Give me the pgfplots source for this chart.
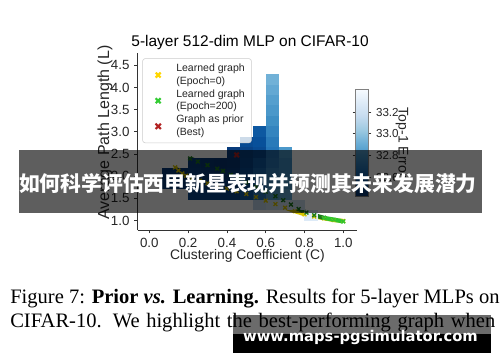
\documentclass[border=0pt]{standalone}
\usepackage{fontspec}
\setmainfont{Liberation Sans}
\newfontfamily\serif{Liberation Serif}
\newfontfamily\cjk{Noto Sans CJK SC}
\newfontfamily\wm{DejaVu Sans}
\usepackage{pgfplots}
\pgfplotsset{compat=1.18}
\usetikzlibrary{calc}

\definecolor{legyellow}{HTML}{FFD700}
\definecolor{lineyellow}{HTML}{D9C600}
\definecolor{leggreen}{HTML}{33CC33}
\definecolor{darkgreen}{HTML}{1C7A1C}
\definecolor{brightgreen}{HTML}{2EC42E}
\definecolor{firebrick}{HTML}{B22222}
\definecolor{axgray}{HTML}{333333}
\definecolor{txtgray}{HTML}{262626}

\pgfdeclareplotmark{cell}{\pgfpathrectangle{\pgfpoint{-4.9pt}{-3.95pt}}{\pgfpoint{9.8pt}{7.9pt}}\pgfusepathqfill}

\pgfplotsset{colormap={myblues}{rgb255(0cm)=(8,48,107); rgb255(1cm)=(8,81,156); rgb255(2cm)=(33,113,181); rgb255(3cm)=(66,146,198); rgb255(4cm)=(107,174,214); rgb255(5cm)=(158,202,225); rgb255(6cm)=(198,219,239); rgb255(7cm)=(222,235,247); rgb255(8cm)=(247,251,255)}}

\begin{document}
\begin{tikzpicture}
\path[fill=white, use as bounding box] (0,0) rectangle (375pt,-271.5pt);
\begin{axis}[
  at={(103.275pt,-172.5pt)}, anchor=south west,
  scale only axis, width=164.25pt, height=132.75pt,
  xmin=-0.0598, xmax=1.069, ymin=0.786, ymax=4.78,
  axis x line*=bottom, axis y line*=left,
  axis line style={axgray, line width=0.6pt},
  tick align=outside, major tick length=2.6pt,
  tick style={axgray, line width=0.6pt},
  xtick={0,0.2,0.4,0.6,0.8,1.0}, ytick={1,1.5,...,4.5},
  /pgf/number format/assume math mode=true,
  xticklabel style={/pgf/number format/fixed, /pgf/number format/fixed zerofill, /pgf/number format/precision=1},
  yticklabel style={/pgf/number format/fixed, /pgf/number format/fixed zerofill, /pgf/number format/precision=1},
  tick label style={font=\fontsize{10}{12}\selectfont, text=txtgray},
  title={5-layer 512-dim MLP on CIFAR-10},
  title style={font=\fontsize{11.6}{13}\selectfont, at={(axis description cs:0.513,1.073)}, anchor=center, yshift=-7.5pt},
  xlabel={Clustering Coefficient (C)},
  xlabel style={font=\fontsize{10.4}{12}\selectfont, text=txtgray, at={(axis description cs:0.501,-0.147)}, anchor=center},
  ylabel={Average Path Length (L)},
  ylabel style={font=\fontsize{12}{14}\selectfont, text=txtgray, at={(axis description cs:-0.149,0.551)}, anchor=center},
  colormap name=myblues,
  point meta min=32.42, point meta max=33.41,
  colorbar,
  colorbar style={
    at={($(parent axis.north west)+(154.7pt,-27.2pt)$)}, anchor=north west,
    width=10pt, height=80.55pt,
    ytick={32.6,32.8,33.0,33.2},
    /pgf/number format/assume math mode=true,
    yticklabel style={font=\fontsize{8.7}{10}\selectfont, text=txtgray, /pgf/number format/fixed, /pgf/number format/fixed zerofill, /pgf/number format/precision=1},
    tick align=outside, major tick length=2pt, tick style={axgray, line width=0.5pt},
    axis line style={gray, line width=0.5pt},
    ylabel={Top-1 Error},
    ylabel style={font=\fontsize{10.5}{12}\selectfont, text=txtgray, rotate=180, at={(axis description cs:3.5,0.5)}, anchor=center},
  },
  legend style={at={(axis description cs:0.021,0.970)}, anchor=north west,
    draw=black!20, rounded corners=2pt, fill=white, fill opacity=0.8, text opacity=1, draw opacity=1,
    font=\fontsize{7.9}{9.5}\selectfont, text=txtgray, cells={align=left}, row sep=-1.5pt,
    inner xsep=3pt, inner ysep=2pt},
  legend cell align=left,
]
% 2D histogram of graphs: cell centre (C, L) and Top-1 error
\addplot[scatter, only marks, mark=cell, scatter src=explicit, forget plot] table[x=c, y=l, meta=v] {
c l v
0.1000 2.062 32.46
0.1000 1.826 32.47
0.1667 2.062 32.45
0.1667 1.826 32.46
0.2333 2.298 32.46
0.2333 2.062 32.47
0.2333 1.826 32.48
0.2333 1.590 32.50
0.3000 2.298 32.45
0.3000 2.062 32.46
0.3000 1.826 32.48
0.3000 1.590 32.50
0.3667 2.298 32.44
0.3667 2.062 32.45
0.3667 1.826 32.47
0.3667 1.590 32.50
0.4333 2.534 32.46
0.4333 2.298 32.45
0.4333 2.062 32.46
0.4333 1.826 32.48
0.4333 1.590 32.50
0.5000 2.770 32.52
0.5000 2.534 32.49
0.5000 2.298 32.50
0.5000 2.062 32.52
0.5000 1.826 32.55
0.5000 1.590 32.58
0.5667 3.006 32.57
0.5667 2.770 32.54
0.5667 2.534 32.52
0.5667 2.298 32.58
0.5667 2.062 32.62
0.5667 1.826 32.65
0.5667 1.590 32.70
0.5667 1.354 33.15
0.6333 4.186 32.93
0.6333 3.950 32.89
0.6333 3.714 32.85
0.6333 3.478 32.82
0.6333 3.242 32.78
0.6333 3.006 32.74
0.6333 2.770 32.70
0.6333 2.534 32.68
0.6333 2.298 32.70
0.6333 2.062 32.74
0.6333 1.826 32.78
0.6333 1.590 32.85
0.6333 1.354 33.20
0.7000 2.534 32.82
0.7000 2.298 32.78
0.7000 2.062 32.78
0.7000 1.826 32.82
0.7000 1.590 32.88
0.7000 1.354 33.22
0.7667 1.354 33.20
0.8333 1.118 33.28
};
\addplot[lineyellow, line width=3pt, mark=x, mark size=2pt, mark options={line width=1pt},
  legend image code/.code={\path (0,0) (0.6cm,0); \draw[legyellow, line width=1.6pt] (0.185cm,-0.065cm)--(0.315cm,0.065cm) (0.185cm,0.065cm)--(0.315cm,-0.065cm);}]
coordinates {(0.133,2.20) (0.15,2.13) (0.17,2.06) (0.19,2.01) (0.22,1.96) (0.26,1.90) (0.30,1.84) (0.35,1.78) (0.40,1.72) (0.45,1.66) (0.50,1.60) (0.55,1.53) (0.60,1.45) (0.65,1.37) (0.70,1.29) (0.75,1.21) (0.80,1.14) (0.85,1.09) (0.90,1.05) (0.95,1.01) (1.00,0.99)};
\addlegendentry{Learned graph\\(Epoch=0)}
\addplot[darkgreen, line width=3.2pt, mark=x, mark size=2pt, mark options={line width=1pt},
  legend image code/.code={\path (0,0) (0.6cm,0); \draw[leggreen, line width=1.6pt] (0.185cm,-0.065cm)--(0.315cm,0.065cm) (0.185cm,0.065cm)--(0.315cm,-0.065cm);}]
coordinates {(0.21,2.40) (0.25,2.33) (0.30,2.25) (0.35,2.17) (0.38,2.12) (0.42,2.03) (0.46,1.95) (0.50,1.86) (0.55,1.76) (0.60,1.65) (0.65,1.55) (0.69,1.46) (0.73,1.36) (0.77,1.26) (0.81,1.18) (0.85,1.12) (0.90,1.06)};
\addlegendentry{Learned graph\\(Epoch=200)}
\addplot[only marks, mark=x, mark size=2.4pt, mark options={line width=1.5pt, color=firebrick},
  legend image code/.code={\path (0,0) (0.6cm,0); \draw[firebrick, line width=1.6pt] (0.18cm,-0.07cm)--(0.32cm,0.07cm) (0.18cm,0.07cm)--(0.32cm,-0.07cm);}]
coordinates {(0.45,2.48)};
\addlegendentry{Graph as prior\\(Best)}
\addplot[brightgreen, line width=3.2pt, mark=x, mark size=2pt, mark options={line width=1pt}, forget plot]
coordinates {(0.90,1.06) (0.95,1.02) (1.00,0.98)};
\end{axis}
\begin{scope}[x=0.75pt, y=-0.75pt]
\fill[black, opacity=0.63] (19,150) rectangle (482,212.7);
\node[text=white, font=\cjk\bfseries\fontsize{15.6}{18}\selectfont, inner sep=0] at (248,184) {如何科学评估西甲新星表现并预测其未来发展潜力};
\node[anchor=base west, inner sep=0, font=\serif\fontsize{15.4}{18}\selectfont] at (10,303) {Figure 7: \textbf{Prior \textit{vs.} Learning.} Results for 5-layer MLPs on};
\node[anchor=base west, inner sep=0, font=\serif\fontsize{15.4}{18}\selectfont] at (10,327) {\makebox[363.75pt][s]{CIFAR-10. We highlight the best-performing graph when}};
\fill[black, opacity=0.58] (232.7,315) rectangle (490.7,334);
\fill[black] (232.7,334) rectangle (490.7,352.7);
\node[text=white, inner sep=0] at (360.5,337) {\resizebox{176pt}{!}{\wm\bfseries www.maps-pgsimulator.com}};
\end{scope}
\end{tikzpicture}
\end{document}
